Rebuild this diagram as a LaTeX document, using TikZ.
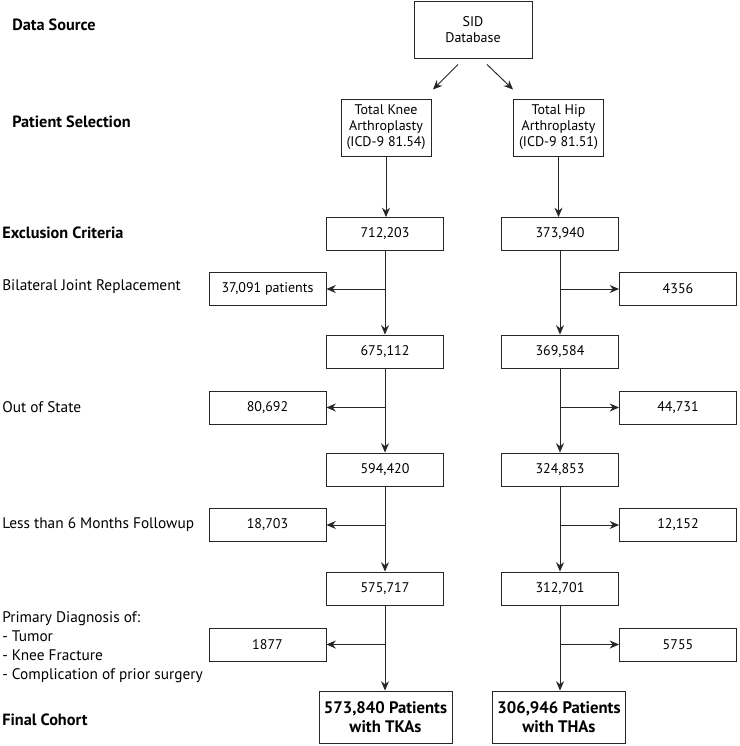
\documentclass[tikz,border=0pt]{standalone}
\usepackage{fontspec}
\setmainfont{PT Sans}
\usetikzlibrary{arrows.meta}

\begin{document}
\begin{tikzpicture}[x = 0.75pt, y = -0.75pt, font = \fontsize{10.5}{12}\selectfont,
  box/.style = {draw = black!85, line width = 0.7pt, minimum width = 87.75pt, minimum height = 24.75pt, inner sep = 2pt},
  tallbox/.style = {box, minimum width = 67.5pt, minimum height = 42.75pt, align = center},
  endbox/.style = {box, minimum width = 99.75pt, minimum height = 39pt, align = center, font = \fontsize{12.5}{14.5}\selectfont\bfseries},
  arr/.style = {draw = black!85, line width = 0.7pt, -{Stealth[length = 7pt, width = 6pt]}},
  stage/.style = {anchor = west, inner sep = 0pt, font = \fontsize{11.5}{14.25}\selectfont},
  head/.style = {stage, font = \fontsize{12.2}{14}\selectfont\bfseries}]
\useasboundingbox (0,0) rectangle (739,746);

\node[head] (lsrc) at (12,25) {Data Source};
\node[head] (lsel) at (12,122) {Patient Selection};
\node[head] (lexc) at (2,233) {Exclusion Criteria};
\node[stage] (lbil) at (2,287) {Bilateral Joint Replacement};
\node[stage] (lout) at (2,407) {Out of State};
\node[stage] (lfol) at (2,525) {Less than 6 Months Followup};
\node[stage, align = left] (ldia) at (2,647) {Primary Diagnosis of:\\- Tumor\\- Knee Fracture\\- Complication of prior surgery};
\node[head] (lfin) at (2,720) {Final Cohort};

\node[tallbox, minimum width = 88.5pt] (sid) at (473,29.5) {SID\\Database};
\node[tallbox] (tka) at (386,127.5) {Total Knee\\Arthroplasty\\(ICD-9 81.54)};
\node[tallbox] (tha) at (558.5,127.5) {Total Hip\\Arthroplasty\\(ICD-9 81.51)};

\node[box] (k0) at (385,234) {712,203};
\node[box] (k1) at (385,351.5) {675,112};
\node[box] (k2) at (385,469.5) {594,420};
\node[box] (k3) at (385,588.5) {575,717};
\node[endbox] (k4) at (385.5,717) {573,840 Patients\\with TKAs};

\node[box] (h0) at (560,234) {373,940};
\node[box] (h1) at (560,351.5) {369,584};
\node[box] (h2) at (560,469.5) {324,853};
\node[box] (h3) at (560,588.5) {312,701};
\node[endbox] (h4) at (559,717) {306,946 Patients\\with THAs};

\node[box] (kx1) at (267.5,289) {37,091 patients};
\node[box] (kx2) at (267.5,407.5) {80,692};
\node[box] (kx3) at (267.5,525) {18,703};
\node[box] (kx4) at (267.5,644.5) {1877};

\node[box] (hx1) at (678,289) {4356};
\node[box] (hx2) at (678,407.5) {44,731};
\node[box] (hx3) at (678,525) {12,152};
\node[box] (hx4) at (678,644.5) {5755};

\draw[arr] ([shift = {(-15,6)}]sid.south) -- ([shift = {(47,-9)}]tka.north);
\draw[arr] ([shift = {(14,6)}]sid.south) -- ([shift = {(-45.5,-9)}]tha.north);

\draw[arr] (tka.south) -- (tka.south |- k0.north);
\draw[arr] (tha.south) -- (tha.south |- h0.north);

\draw[arr] (k0) -- (k1);
\draw[arr] (k1) -- (k2);
\draw[arr] (k2) -- (k3);
\draw[arr] (k3) -- (k3 |- k4.north);
\draw[arr] (h0) -- (h1);
\draw[arr] (h1) -- (h2);
\draw[arr] (h2) -- (h3);
\draw[arr] (h3) -- (h3 |- h4.north);

\draw[arr] (k0 |- kx1) -- (kx1);
\draw[arr] (k1 |- kx2) -- (kx2);
\draw[arr] (k2 |- kx3) -- (kx3);
\draw[arr] (k3 |- kx4) -- (kx4);
\draw[arr] (h0 |- hx1) -- (hx1);
\draw[arr] (h1 |- hx2) -- (hx2);
\draw[arr] (h2 |- hx3) -- (hx3);
\draw[arr] (h3 |- hx4) -- (hx4);
\end{tikzpicture}
\end{document}
